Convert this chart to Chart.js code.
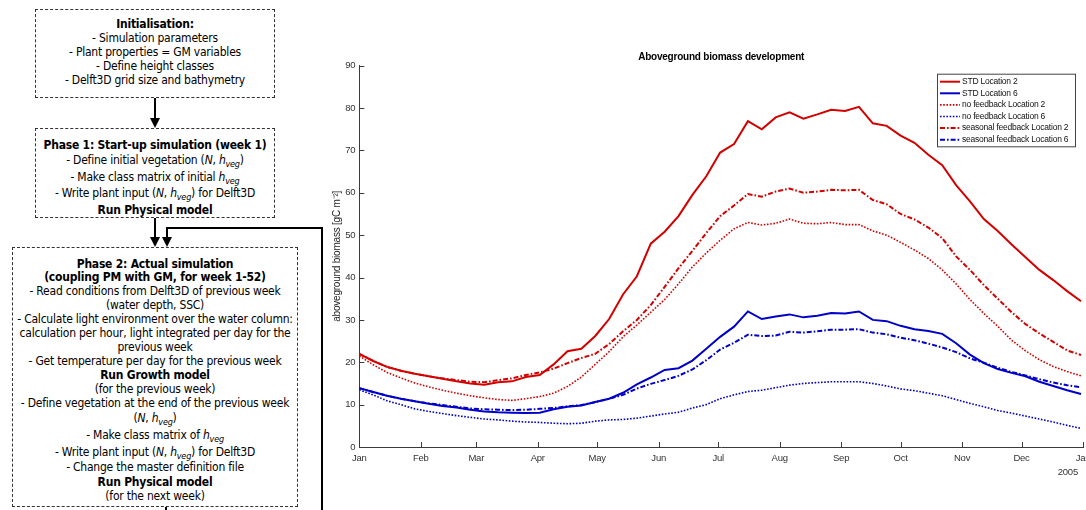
<!DOCTYPE html>
<html>
<head>
<meta charset="utf-8">
<script src="https://cdn.jsdelivr.net/npm/chart.js@4.4.0/dist/chart.umd.min.js"></script>
<style>
  html, body { margin: 0; padding: 0; background: #fff; }
  body { width: 1086px; height: 510px; position: relative; overflow: hidden;
         font-family: "DejaVu Sans Condensed", "DejaVu Sans", sans-serif; font-stretch: condensed;
         font-size: 12px; letter-spacing: -0.22px; color: #000; }
  .box { position: absolute; box-sizing: border-box; border: 1px dashed #333; text-align: center; }
  .box div { height: 14px; line-height: 14px; white-space: nowrap; }
  .b { font-weight: bold; }
  sub { font-size: 0.75em; line-height: 0; vertical-align: -0.3em; }
  .ln { position: absolute; background: #000; }
  .head { position: absolute; width: 0; height: 0; border-left: 5px solid transparent;
          border-right: 5px solid transparent; border-top: 10px solid #000; }
  #chartBox { position: absolute; left: 325px; top: 0; }
</style>
</head>
<body>

<!-- flow chart -->
<div class="box" style="left:35px;top:9px;width:240px;height:89px;padding-top:7px;">
  <div class="b">Initialisation:</div>
  <div>- Simulation parameters</div>
  <div>- Plant properties = GM variables</div>
  <div>- Define height classes</div>
  <div>- Delft3D grid size and bathymetry</div>
</div>

<div class="box" style="left:35px;top:128px;width:240px;height:90px;padding-top:9px;">
  <div class="b">Phase 1: Start-up simulation (week 1)</div>
  <div style="height:16.5px;line-height:16.5px">- Define initial vegetation (<i>N</i>, <i>h<sub>veg</sub></i>)</div>
  <div style="height:16.5px;line-height:16.5px">- Make class matrix of initial <i>h<sub>veg</sub></i></div>
  <div style="height:16.5px;line-height:16.5px">- Write plant input (<i>N</i>, <i>h<sub>veg</sub></i>) for Delft3D</div>
  <div class="b" style="height:16.5px;line-height:16.5px">Run Physical model</div>
</div>

<div class="box" style="left:12px;top:247px;width:286px;height:260px;padding-top:9px;">
  <div class="b">Phase 2: Actual simulation</div>
  <div class="b" style="height:13px;line-height:13px">(coupling PM with GM, for week 1-52)</div>
  <div>- Read conditions from Delft3D of previous week</div>
  <div>(water depth, SSC)</div>
  <div>- Calculate light environment over the water column:</div>
  <div>calculation per hour, light integrated per day for the</div>
  <div>previous week</div>
  <div>- Get temperature per day for the previous week</div>
  <div class="b">Run Growth model</div>
  <div>(for the previous week)</div>
  <div>- Define vegetation at the end of the previous week</div>
  <div style="height:16px;line-height:16px">(<i>N</i>, <i>h<sub>veg</sub></i>)</div>
  <div style="height:18px;line-height:18px">- Make class matrix of <i>h<sub>veg</sub></i></div>
  <div style="height:16px;line-height:16px">- Write plant input (<i>N</i>, <i>h<sub>veg</sub></i>) for Delft3D</div>
  <div style="height:15px;line-height:15px">- Change the master definition file</div>
  <div class="b">Run Physical model</div>
  <div>(for the next week)</div>
</div>

<!-- arrows -->
<div class="ln" style="left:154px;top:98px;width:2px;height:21px;"></div>
<div class="head" style="left:150px;top:118px;"></div>
<div class="ln" style="left:154px;top:218px;width:2px;height:20px;"></div>
<div class="head" style="left:150px;top:237px;"></div>
<div class="ln" style="left:321px;top:227px;width:2px;height:283px;"></div>
<div class="ln" style="left:166px;top:227px;width:157px;height:2px;"></div>
<div class="ln" style="left:166px;top:227px;width:2px;height:11px;"></div>
<div class="head" style="left:162px;top:237px;"></div>
<div class="ln" style="left:165px;top:507px;width:2px;height:3px;"></div>

<div id="chartBox"><canvas id="bioChart" width="761" height="510"></canvas></div>

<script>
// day of year (weekly samples)
const days = [0,7,14,21,28,35,42,49,56,63,70,77,84,91,98,105,112,119,126,133,140,147,154,161,168,175,
  182,189,196,203,210,217,224,231,238,245,252,259,266,273,280,287,294,301,308,315,322,329,336,343,350,357,364];

const stdLoc2 = [22.0,20.3,18.9,18.0,17.3,16.7,16.1,15.5,15.0,14.7,15.3,15.5,16.5,17.0,19.5,22.6,23.2,26.2,30.2,36.0,
  40.3,48.0,50.8,54.5,59.5,63.9,69.5,71.5,76.9,75.0,77.8,79.0,77.5,78.5,79.6,79.3,80.3,76.4,75.8,73.5,71.8,69.0,
  66.5,61.8,58.0,53.8,51.0,47.8,44.8,41.8,39.4,36.8,34.4];
const stdLoc6 = [13.9,13.0,12.1,11.4,10.8,10.2,9.7,9.3,8.8,8.4,8.2,8.1,8.0,8.1,8.9,9.5,9.8,10.6,11.4,12.8,
  14.8,16.4,18.2,18.6,20.4,23.2,26.0,28.4,32.0,30.2,30.8,31.3,30.6,31.0,31.6,31.5,32.0,30.0,29.7,28.6,27.8,27.4,
  26.7,24.5,21.8,19.8,18.4,17.5,16.7,15.4,14.4,13.4,12.5];
const noFbLoc2 = [21.5,19.4,17.6,16.3,15.1,14.2,13.4,12.7,12.1,11.6,11.2,11.0,11.4,11.9,12.7,14.3,16.5,19.5,22.5,26.0,
  28.8,31.8,34.8,38.5,42.5,45.8,48.8,51.5,53.0,52.4,52.8,53.8,52.8,52.7,53.0,52.5,52.5,51.0,50.0,48.3,46.5,44.5,
  41.8,38.5,34.8,31.5,28.5,25.2,22.7,20.6,19.0,17.8,16.8];
const noFbLoc6 = [13.5,12.3,10.9,10.0,9.0,8.4,7.9,7.4,7.0,6.6,6.4,6.1,5.9,5.8,5.6,5.5,5.6,6.1,6.4,6.5,
  6.8,7.3,7.8,8.2,9.2,10.0,11.4,12.3,13.1,13.4,14.0,14.6,15.0,15.2,15.4,15.4,15.4,15.0,14.4,13.7,13.3,12.7,
  12.1,11.2,10.3,9.5,8.6,8.0,7.3,6.6,5.9,5.1,4.4];
const seasLoc2 = [22.0,20.3,18.9,18.0,17.3,16.7,16.2,15.8,15.4,15.3,15.8,16.2,17.0,17.6,18.5,19.8,21.0,22.0,24.3,27.3,
  30.0,33.5,37.8,42.2,46.3,50.5,54.5,57.0,59.7,59.1,60.3,61.0,60.0,60.3,60.7,60.6,60.7,58.3,57.3,55.0,53.7,51.8,
  49.3,45.0,41.8,38.2,35.0,31.8,29.0,26.8,24.8,22.8,21.7];
const seasLoc6 = [13.9,13.0,12.1,11.4,10.8,10.3,9.9,9.5,9.1,8.9,8.8,8.7,8.8,9.0,9.2,9.6,9.9,10.6,11.4,12.3,
  13.8,14.9,15.8,16.8,18.3,20.5,23.0,24.6,26.5,26.2,26.3,27.2,27.0,27.3,27.7,27.7,27.8,27.0,26.6,25.8,25.2,24.4,
  23.5,22.4,20.9,19.9,18.7,17.7,16.9,16.0,15.2,14.6,14.1];

const seriesLabels = ["STD Location 2", "STD Location 6", "no feedback Location 2",
  "no feedback Location 6", "seasonal feedback Location 2", "seasonal feedback Location 6"];

const monthTicks = [0,31,59,90,120,151,181,212,243,273,304,334,365];
const monthLabels = ["Jan","Feb","Mar","Apr","May","Jun","Jul","Aug","Sep","Oct","Nov","Dec","Jan"];
const yearLabel = "2005";

const red = "#d40000";
const blue = "#0000c8";
const axisColor = "#3a3a3a";

function pts(vals) {
  return days.map((d, i) => ({ x: d, y: vals[i] }));
}

function makeSet(label, vals, color, dash, width) {
  return {
    label: label,
    data: pts(vals),
    borderColor: color,
    backgroundColor: color,
    borderDash: dash,
    borderWidth: width,
    pointRadius: 0,
    fill: false,
    tension: 0
  };
}

const dotted = [1.6, 1.6];
const dashDot = [5, 2, 1.6, 2];

// inward ticks, the year under the last month and a boxed legend like matlab
const extras = {
  id: "extras",
  afterDatasetsDraw(chart) {
    const ctx = chart.ctx;
    const xs = chart.scales.x;
    const ys = chart.scales.y;
    ctx.save();
    ctx.strokeStyle = axisColor;
    ctx.lineWidth = 1;
    ctx.setLineDash([]);
    ctx.beginPath();
    xs.ticks.forEach(t => {
      const px = Math.round(xs.getPixelForValue(t.value)) + 0.5;
      ctx.moveTo(px, ys.bottom);
      ctx.lineTo(px, ys.bottom - 5);
    });
    ys.ticks.forEach(t => {
      const py = Math.round(ys.getPixelForValue(t.value)) + 0.5;
      ctx.moveTo(xs.left, py);
      ctx.lineTo(xs.left + 5, py);
    });
    ctx.stroke();

    ctx.fillStyle = "#333";
    ctx.font = "9.5px 'Liberation Sans', Arial, sans-serif";
    ctx.textAlign = "right";
    ctx.textBaseline = "middle";
    ctx.fillText(yearLabel, xs.right - 5, ys.bottom + 25);

    // legend
    const w = 138, rowH = 11.6;
    const sets = chart.data.datasets;
    const lx = xs.right - 8 - w;
    const ly = ys.top + 8;
    const h = rowH * sets.length + 3;
    ctx.fillStyle = "#fff";
    ctx.fillRect(lx, ly, w, h);
    ctx.strokeStyle = "#444";
    ctx.strokeRect(lx + 0.5, ly + 0.5, w, h);
    ctx.font = "8.5px 'Liberation Sans', Arial, sans-serif";
    ctx.textAlign = "left";
    sets.forEach((ds, i) => {
      const cy = ly + 8 + i * rowH;
      ctx.strokeStyle = ds.borderColor;
      ctx.lineWidth = ds.borderWidth;
      ctx.setLineDash(ds.borderDash);
      ctx.beginPath();
      ctx.moveTo(lx + 3, cy);
      ctx.lineTo(lx + 23, cy);
      ctx.stroke();
      ctx.fillStyle = "#111";
      ctx.fillText(ds.label, lx + 25, cy);
    });
    ctx.restore();
  }
};

new Chart(document.getElementById("bioChart"), {
  type: "line",
  data: {
    datasets: [
      makeSet(seriesLabels[0], stdLoc2, red, [], 2),
      makeSet(seriesLabels[1], stdLoc6, blue, [], 2),
      makeSet(seriesLabels[2], noFbLoc2, red, dotted, 1.6),
      makeSet(seriesLabels[3], noFbLoc6, blue, dotted, 1.6),
      makeSet(seriesLabels[4], seasLoc2, red, dashDot, 2),
      makeSet(seriesLabels[5], seasLoc6, blue, dashDot, 2)
    ]
  },
  options: {
    responsive: false,
    animation: false,
    layout: { padding: { left: 0, right: 3, top: 0, bottom: 0 } },
    plugins: {
      legend: { display: false },
      tooltip: { enabled: false },
      title: {
        display: true,
        fullSize: false,
        text: "Aboveground biomass development",
        color: "#000",
        font: { family: "'Liberation Sans', Arial, sans-serif", size: 10, weight: "bold" },
        padding: { top: 51, bottom: 2.7 }
      }
    },
    scales: {
      x: {
        type: "linear",
        min: 0,
        max: 365,
        afterBuildTicks: scale => { scale.ticks = monthTicks.map(v => ({ value: v })); },
        afterFit: scale => { scale.height = 63; scale.paddingLeft = 0; scale.paddingRight = 0; },
        grid: { display: false, drawTicks: false },
        border: { display: true, color: axisColor, width: 1 },
        ticks: {
          autoSkip: false,
          maxRotation: 0,
          padding: 6,
          color: "#333",
          font: { family: "'Liberation Sans', Arial, sans-serif", size: 9.5 },
          callback: (v) => monthLabels[monthTicks.indexOf(v)]
        }
      },
      y: {
        min: 0,
        max: 90,
        afterFit: scale => { scale.width = 34.3; },
        grid: { display: false, drawTicks: false },
        border: { display: true, color: axisColor, width: 1 },
        ticks: {
          stepSize: 10,
          padding: 4,
          color: "#333",
          font: { family: "'Liberation Sans', Arial, sans-serif", size: 9.5 }
        },
        title: {
          display: true,
          text: "aboveground biomass [gC m\u207B\u00B2]",
          color: "#222",
          font: { family: "'Liberation Sans', Arial, sans-serif", size: 10 },
          padding: { top: 6, bottom: 0 }
        }
      }
    }
  },
  plugins: [extras]
});
</script>
</body>
</html>
